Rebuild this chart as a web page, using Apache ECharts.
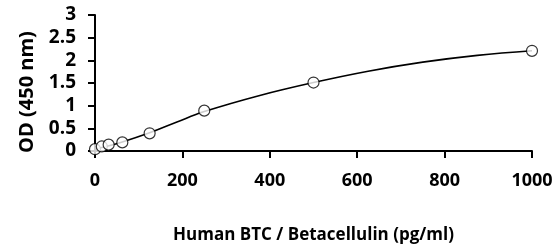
<!DOCTYPE html>
<html lang="en">
<head>
  <meta charset="UTF-8">
  <style>
    body { margin: 0; }
    #chart { width: 559px; height: 249px; }
  </style>
  <script src="https://cdn.jsdelivr.net/npm/echarts@6/dist/echarts.min.js"></script>
</head>
<body>
  <div id="chart"></div>
  <script>
    // standard concentrations (pg/ml) and OD readings
    var conc = [0, 15.6, 31.25, 62.5, 125, 250, 500, 1000];
    var od = [0.04, 0.1, 0.14, 0.19, 0.39, 0.89, 1.51, 2.21];
    // fitted curve
    var curveX = [0, 62.5, 125, 187.5, 250, 375, 500, 625, 750, 875, 1000];
    var curveY = [0.04, 0.2, 0.4, 0.64, 0.87, 1.22, 1.51, 1.76, 1.96, 2.11, 2.21];

    var font = '"Open Sans", "DejaVu Sans", sans-serif';
    var chart = echarts.init(document.getElementById('chart'));
    chart.setOption({
      animation: false,
      grid: { left: 95, right: 27, top: 15, bottom: 89 },
      xAxis: {
        type: 'value', min: 0, max: 1000, interval: 200,
        name: 'Human BTC / Betacellulin (pg/ml)',
        nameLocation: 'middle', nameGap: 76,
        nameTextStyle: { fontFamily: font, fontWeight: 'bold', fontSize: 17, color: '#000' },
        axisLine: { lineStyle: { color: '#000', width: 2 } },
        axisTick: { show: true, length: 7, lineStyle: { color: '#000', width: 2 } },
        axisLabel: {
          margin: 21, fontFamily: font, fontWeight: 'bold', fontSize: 18, color: '#000',
          formatter: function (v) { return String(v); }
        },
        splitLine: { show: false }
      },
      yAxis: {
        type: 'value', min: 0, max: 3, interval: 0.5,
        name: 'OD (450 nm)',
        nameLocation: 'middle', nameGap: 58, nameRotate: 90,
        nameTextStyle: { fontFamily: font, fontWeight: 'bold', fontSize: 20, color: '#000', padding: [0, 18, 0, 0] },
        axisLine: { show: true, lineStyle: { color: '#000', width: 2 } },
        axisTick: { show: true, length: 7, lineStyle: { color: '#000', width: 2 } },
        axisLabel: { margin: 19, fontFamily: font, fontWeight: 'bold', fontSize: 19, color: '#000' },
        splitLine: { show: false }
      },
      series: [
        {
          type: 'line',
          data: curveX.map(function (x, i) { return [x, curveY[i]]; }),
          smooth: 0.4, symbol: 'none',
          lineStyle: { color: '#000', width: 1.6 }
        },
        {
          type: 'scatter',
          data: conc.map(function (x, i) { return [x, od[i]]; }),
          symbol: 'circle', symbolSize: 11,
          itemStyle: { color: '#fff', borderColor: '#000', borderWidth: 1.2 },
          z: 5
        }
      ]
    });
  </script>
</body>
</html>
